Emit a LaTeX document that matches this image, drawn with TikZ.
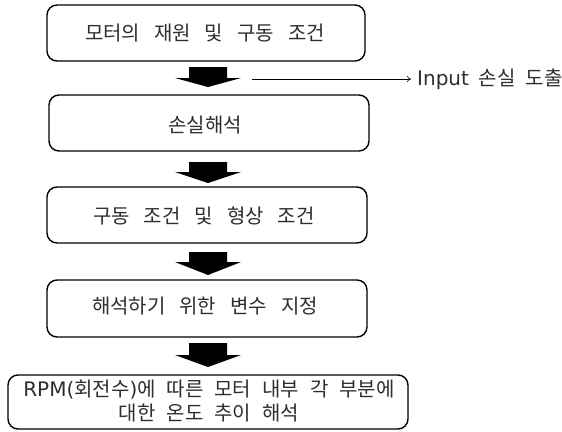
\documentclass[tikz,border=0pt]{standalone}
\usepackage{fontspec}
\newfontfamily\kr{Noto Sans CJK KR}
\newfontfamily\lat{DejaVu Sans}
\newcommand\krwsp[1]{\spaceskip=#1em\relax}
\usetikzlibrary{arrows.meta}
\begin{document}
\begin{tikzpicture}[x=1pt,y=-1pt,
  stepbox/.style={draw,line width=1.4pt,rounded corners=10pt,fill=white},
  lbl/.style={font=\kr\fontsize{20}{24}\selectfont\krwsp{0.7},text=black!82,align=center,inner sep=0pt},
  bigarrow/.style={fill=black,draw=none}]
\useasboundingbox (0,0) rectangle (562,431);
% boxes
\draw[stepbox] (47,5) rectangle (365,61);
\node[lbl] (b1) at (205,33) {모터의 재원 및 구동 조건};
\draw[stepbox] (49,95) rectangle (369,151);
\node[lbl] (b2) at (205,125) {손실해석};
\draw[stepbox] (47,187) rectangle (367,243);
\node[lbl] (b3) at (204,216) {구동 조건 및 형상 조건};
\draw[stepbox] (47,280) rectangle (367,337);
\node[lbl] (b4) at (205,306) {해석하기 위한 변수 지정};
\draw[stepbox] (8,375) rectangle (408,429);
\node[lbl,font=\kr\fontsize{20}{24}\selectfont\krwsp{0.55}] (b5) at (209,401) {{\lat RPM(}회전수{\lat )}에 따른 모터 내부 각 부분에\\대한 온도 추이 해석};
% block arrows
\foreach \t/\h/\b in {67/78/87, 162/172/183, 252/262/275, 343/355/367}{
  \fill[bigarrow] (189,\t) -- (227,\t) -- (227,\h) -- (241,\h) -- (208,\b) -- (175,\h) -- (189,\h) -- cycle;
}
% side note
\coordinate (s) at (252,79);
\node[lbl,anchor=west,font=\kr\fontsize{20}{24}\selectfont\krwsp{0.5}] (inp) at (417,79) {{\lat Input} 손실 도출};
\draw[line width=0.6pt,-{To[length=4pt,width=6pt]}] (s) -- ([xshift=-6pt]inp.west);
\end{tikzpicture}
\end{document}
